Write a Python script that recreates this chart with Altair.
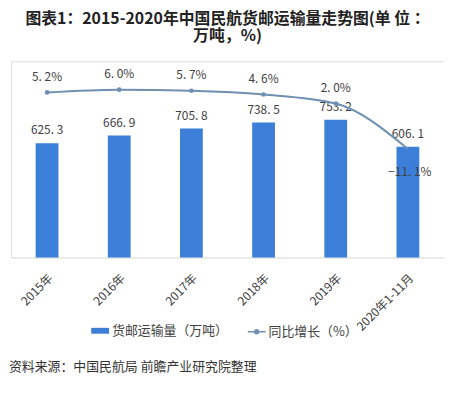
import altair as alt
import pandas as pd

years = ["2015年", "2016年", "2017年", "2018年", "2019年", "2020年1-11月"]
cargo = [625.3, 666.9, 705.8, 738.5, 753.2, 606.1]
growth = [5.2, 6.0, 5.7, 4.6, 2.0, -11.1]

title_lines = ["图表1：2015-2020年中国民航货邮运输量走势图(单 位 ：", "万吨，%)"]
bar_name = "货邮运输量（万吨）"
line_name = "同比增长（%）"
source_text = "资料来源：中国民航局 前瞻产业研究院整理"

FONT = "Noto Sans CJK SC"
BAR_COLOR = "#3b7fd9"
LINE_COLOR = "#6f8fb2"
TXT = "#404040"

df = pd.DataFrame({"year": years, "cargo": cargo, "growth": growth})

base = alt.Chart(df).transform_calculate(
    s1=f"'{bar_name}'",
    s2=f"'{line_name}'",
    cargo_lbl="replace(format(datum.cargo, '.1f'), '.', '. ')",
    growth_lbl="replace(format(datum.growth, '.1f'), '.', '. ') + '%'",
)

x = alt.X(
    "year:N",
    sort=years,
    scale=alt.Scale(paddingInner=0, paddingOuter=0),
    axis=alt.Axis(
        title=None,
        labelAngle=-45,
        labelAlign="right",
        labelBaseline="top",
        labelPadding=15,
        labelFont=FONT,
        labelFontSize=12,
        labelColor=TXT,
        ticks=False,
        domainColor="#e6e6e6",
        labelOverlap=False,
    ),
)

ybar = alt.Y("cargo:Q", scale=alt.Scale(domain=[0, 1074], nice=False, zero=True), axis=None)
yline = alt.Y("growth:Q", scale=alt.Scale(domain=[-42.4, 14.2], nice=False, zero=False), axis=None)

bars = base.mark_bar(size=23).encode(
    x=x,
    y=ybar,
    fill=alt.Fill(
        "s1:N",
        scale=alt.Scale(range=[BAR_COLOR]),
        legend=alt.Legend(
            title=None,
            orient="none",
            legendX=81,
            legendY=263,
            symbolType="M-1,-0.33H1V0.33H-1Z",
            symbolSize=324,
            symbolStrokeWidth=0,
            labelFont=FONT,
            labelFontSize=13,
            labelColor=TXT,
            labelOffset=3,
        ),
    ),
)

bar_text = base.mark_text(baseline="bottom", dy=-6, font=FONT, fontSize=12, color=TXT).encode(
    x=x, y=ybar, text="cargo_lbl:N"
)

line = base.mark_line(interpolate="monotone", strokeWidth=2).encode(
    x=x,
    y=yline,
    stroke=alt.Stroke(
        "s2:N",
        scale=alt.Scale(range=[LINE_COLOR]),
        legend=alt.Legend(
            title=None,
            orient="none",
            legendX=238,
            legendY=263,
            symbolType="M-1,0H1M-0.22,0A0.22,0.22 0 1,0 0.22,0A0.22,0.22 0 1,0 -0.22,0Z",
            symbolSize=324,
            symbolStrokeWidth=1.5,
            symbolFillColor=LINE_COLOR,
            labelFont=FONT,
            labelFontSize=13,
            labelColor=TXT,
            labelOffset=2,
        ),
    ),
)

points = base.transform_filter("datum.growth >= 0").mark_circle(
    size=22, color=LINE_COLOR, opacity=1
).encode(x=x, y=yline)

pos_text = base.transform_filter("datum.growth >= 0").mark_text(
    baseline="bottom", dy=-9, font=FONT, fontSize=12, color=TXT
).encode(x=x, y=yline, text="growth_lbl:N")

neg_text = base.transform_filter("datum.growth < 0").mark_text(
    baseline="top", dy=18, dx=2, font=FONT, fontSize=12, color=TXT
).encode(x=x, y=yline, text="growth_lbl:N")

src = alt.Chart(pd.DataFrame({"t": [source_text]})).mark_text(
    align="left", baseline="middle", font=FONT, fontSize=13, color="#333333"
).encode(x=alt.value(-2), y=alt.value(309), text="t:N")

chart = alt.layer(
    alt.layer(bars, bar_text).resolve_scale(y="shared"),
    alt.layer(line, points, pos_text, neg_text),
    src,
).resolve_scale(y="independent").properties(
    width=437,
    height=198,
    autosize=alt.AutoSizeParams(type="none"),
    padding={"left": 3, "top": 52, "right": 0, "bottom": 127},
    title=alt.TitleParams(
        text=title_lines,
        font=FONT,
        fontSize=16,
        fontWeight="bold",
        color="#222222",
        anchor="middle",
        frame="group",
        offset=17,
        lineHeight=18,
    ),
).configure_view(stroke=None).configure(background="white")

chart.save("out.html", embed_options={"renderer": "svg", "actions": False})
